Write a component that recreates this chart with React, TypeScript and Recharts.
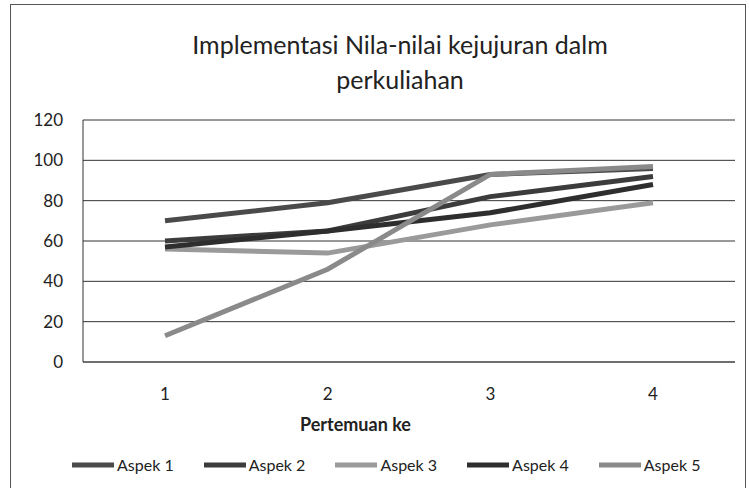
import { CartesianGrid, Line, LineChart, XAxis, YAxis } from "recharts"

const pertemuan = ["1", "2", "3", "4"]
const aspek1 = [70, 79, 93, 96]
const aspek2 = [60, 65, 82, 92]
const aspek3 = [56, 54, 68, 79]
const aspek4 = [57, 65, 74, 88]
const aspek5 = [13, 46, 93, 97]
const yTicks = [0, 20, 40, 60, 80, 100, 120]

const series = [
  { key: "aspek1", name: "Aspek 1", values: aspek1, color: "#4a4a4a" },
  { key: "aspek2", name: "Aspek 2", values: aspek2, color: "#3c3c3c" },
  { key: "aspek3", name: "Aspek 3", values: aspek3, color: "#9a9a9a" },
  { key: "aspek4", name: "Aspek 4", values: aspek4, color: "#2e2e2e" },
  { key: "aspek5", name: "Aspek 5", values: aspek5, color: "#8a8a8a" },
]

const data = pertemuan.map((p, i) => {
  const row: Record<string, string | number> = { pertemuan: p }
  series.forEach((s) => (row[s.key] = s.values[i]))
  return row
})

const font = "Lato, 'Open Sans', sans-serif"
const tickStyle = { fontSize: 17, fill: "#222", fontFamily: font }

export default function App() {
  return (
    <div style={{ position: "absolute", left: 0, top: 0, width: 749, height: 488, overflow: "hidden", background: "#fff", fontFamily: font }}>
      {/* chart frame */}
      <div style={{ position: "absolute", left: 10, top: 4, width: 734, height: 520, border: "1.5px solid #555" }} />

      <div style={{ position: "absolute", left: 0, top: 27, width: 800, textAlign: "center", fontSize: 25, lineHeight: "35px", color: "#222" }}>
        Implementasi Nila-nilai kejujuran dalm
        <br />
        perkuliahan
      </div>

      <div style={{ position: "absolute", left: 0, top: 0 }}>
        <LineChart width={749} height={488} data={data} margin={{ top: 120, right: 14, bottom: 96, left: 0 }}>
          <CartesianGrid horizontal vertical={false} stroke="#333" />
          <XAxis
            dataKey="pertemuan"
            height={30}
            padding={{ left: 82, right: 82 }}
            tickLine={false}
            tickSize={0}
            tickMargin={26}
            axisLine={{ stroke: "#444" }}
            tick={tickStyle}
          />
          <YAxis
            width={83}
            domain={[0, 120]}
            ticks={yTicks}
            tickLine={false}
            tickSize={0}
            tickMargin={20}
            axisLine={{ stroke: "#333" }}
            tick={tickStyle}
          />
          {series.map((s) => (
            <Line
              key={s.key}
              dataKey={s.key}
              name={s.name}
              stroke={s.color}
              strokeWidth={5}
              dot={false}
              isAnimationActive={false}
            />
          ))}
        </LineChart>
      </div>

      <div style={{ position: "absolute", left: 300, top: 413, fontSize: 18, fontWeight: 700, color: "#222" }}>
        Pertemuan ke
      </div>

      {/* legend */}
      <div style={{ position: "absolute", left: 72, top: 455, display: "flex", alignItems: "center", gap: 30, fontSize: 16, color: "#222" }}>
        {series.map((s) => (
          <div key={s.key} style={{ display: "flex", alignItems: "center", gap: 3 }}>
            <svg width={42} height={6}>
              <line x1={0} y1={3} x2={42} y2={3} stroke={s.color} strokeWidth={5} />
            </svg>
            <span>{s.name}</span>
          </div>
        ))}
      </div>
    </div>
  )
}
